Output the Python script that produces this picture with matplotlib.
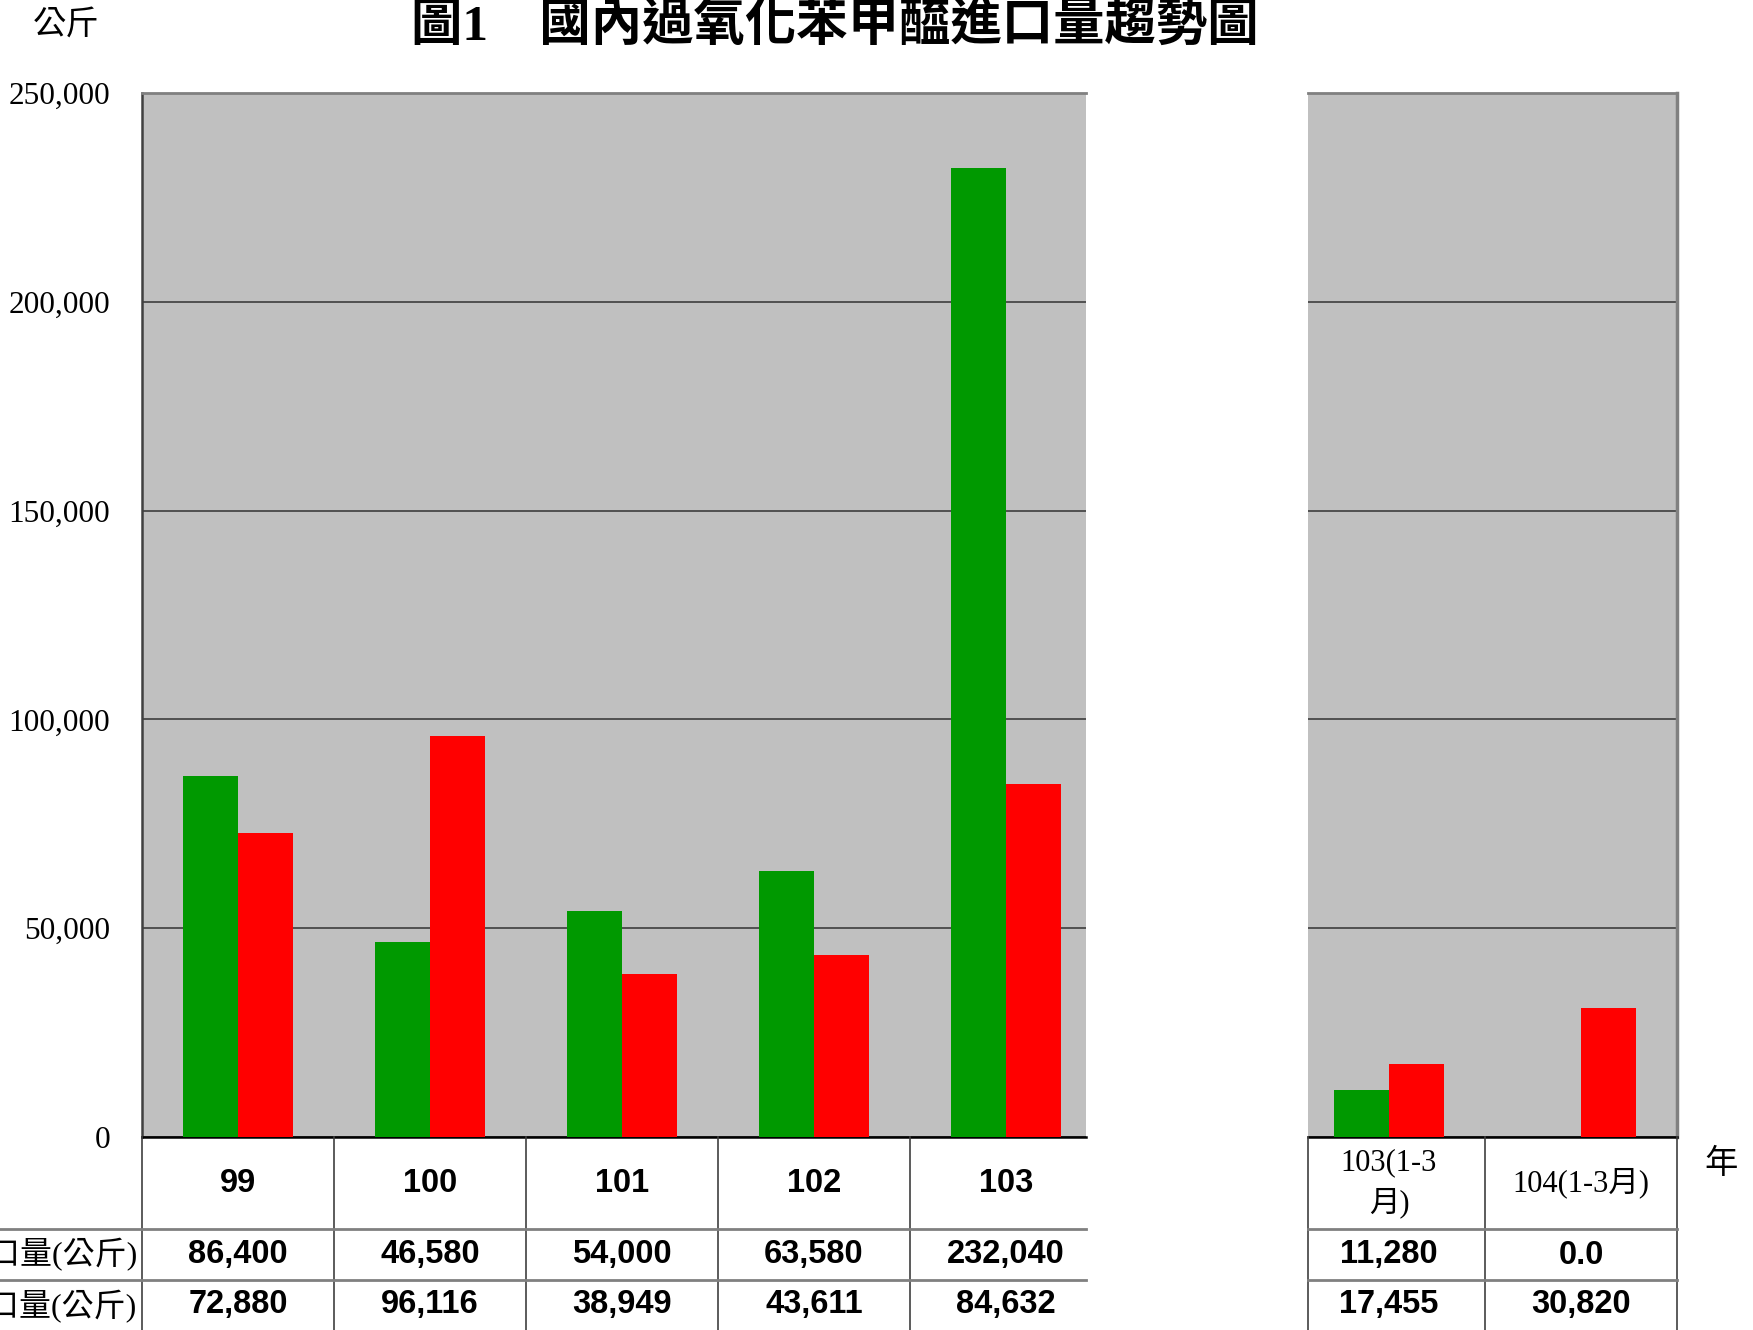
import matplotlib
matplotlib.use('Agg')
import matplotlib.pyplot as plt
from matplotlib.lines import Line2D
from matplotlib.ticker import FuncFormatter

# ---- data ----
years = ['99', '100', '101', '102', '103']
green_vals = [86400, 46580, 54000, 63580, 232040]
red_vals = [72880, 96116, 38949, 43611, 84632]
q_labels = ['103(1-3\n月)', '104(1-3月)']
q_green = [11280, 0.0]
q_red = [17455, 30820]
row_labels = ['進口量(公斤)', '出口量(公斤)']
yticks = [0, 50000, 100000, 150000, 200000, 250000]
title = '圖1　國內過氧化苯甲醯進口量趨勢圖'

GREEN = '#009900'
RED = '#FF0000'
BG = '#C0C0C0'
SERIF_CJK = ['Liberation Serif', 'Noto Sans CJK TC']
SANS_B = 'Liberation Sans'

W, H = 1753, 1330
fig = plt.figure(figsize=(W / 100, H / 100), dpi=100)
fig.patch.set_facecolor('white')

top, zero = 93, 1137
ph = zero - top
ax1 = fig.add_axes([142 / W, 1 - zero / H, (1086 - 142) / W, ph / H])
ax2 = fig.add_axes([1308 / W, 1 - zero / H, (1677 - 1308) / W, ph / H])

colw = 192.0
ax1.set_xlim(-0.5, -0.5 + (1086 - 142) / colw)
ax2.set_xlim(1.5 - (1677 - 1308) / colw, 1.5)

def fmt(v):
    return '0.0' if v == 0 else f'{v:,.0f}'

for ax, cats, g, r in [(ax1, years, green_vals, red_vals),
                       (ax2, q_labels, q_green, q_red)]:
    ax.set_facecolor(BG)
    ax.set_ylim(0, 250000)
    w = 55.0 / colw
    xs = list(range(len(cats)))
    ax.bar([x - w / 2 for x in xs], g, width=w, color=GREEN, linewidth=0, zorder=3)
    ax.bar([x + w / 2 for x in xs], r, width=w, color=RED, linewidth=0, zorder=3)
    ax.set_yticks(yticks)
    ax.yaxis.grid(True, color='#333333', linewidth=1.1, zorder=1)
    ax.set_axisbelow(True)
    ax.set_xticks([])
    ax.tick_params(axis='y', length=0)
    for s in ax.spines.values():
        s.set_visible(False)
    ax.spines['top'].set_visible(True)
    ax.spines['top'].set_color('#808080')
    ax.spines['top'].set_linewidth(2.0)
    ax.spines['bottom'].set_visible(True)
    ax.spines['bottom'].set_color('#000000')
    ax.spines['bottom'].set_linewidth(1.8)

    # table
    yf = lambda p: (zero - p) / ph
    ybot = yf(H)
    lo, hi = ax.get_xlim()
    for i in range(len(cats) + 1):
        xb = i - 0.5
        if lo - 1e-9 <= xb <= hi + 1e-9:
            ax.plot([xb, xb], [0, ybot], transform=ax.get_xaxis_transform(),
                    color='#404040', linewidth=1.2, clip_on=False, zorder=5)
    if ax is ax2:
        ax.plot([lo, lo], [0, ybot], transform=ax.get_xaxis_transform(),
                color='#404040', linewidth=1.2, clip_on=False, zorder=5)
    for i, c in enumerate(cats):
        if ax is ax1:
            ax.text(i, yf(1183), c, transform=ax.get_xaxis_transform(),
                    ha='center', va='center', fontsize=23.5, fontweight='bold',
                    family=SANS_B)
        else:
            ax.text(i, yf(1183), c, transform=ax.get_xaxis_transform(),
                    ha='center', va='center', fontsize=22, family=SERIF_CJK,
                    linespacing=1.45)
        ax.text(i, yf(1255), fmt(g[i]), transform=ax.get_xaxis_transform(),
                ha='center', va='center', fontsize=23.5, fontweight='bold', family=SANS_B)
        ax.text(i, yf(1305), fmt(r[i]), transform=ax.get_xaxis_transform(),
                ha='center', va='center', fontsize=23.5, fontweight='bold', family=SANS_B)

ax1.spines['left'].set_visible(True)
ax1.spines['left'].set_color('#404040')
ax1.spines['left'].set_linewidth(1.8)
ax2.spines['right'].set_visible(True)
ax2.spines['right'].set_color('#808080')
ax2.spines['right'].set_linewidth(2.5)

ax1.yaxis.set_major_formatter(FuncFormatter(lambda v, p: f'{v:,.0f}'))
for lab in ax1.get_yticklabels():
    lab.set_family('Liberation Serif')
    lab.set_fontsize(22.5)
ax1.tick_params(axis='y', pad=23)
ax2.set_yticklabels([])

# horizontal table row lines (figure coords)
for yp in [1229, 1280]:
    fig.add_artist(Line2D([0, 1086 / W], [1 - yp / H, 1 - yp / H],
                          color='#808080', linewidth=2.0))
    fig.add_artist(Line2D([1308 / W, 1677 / W], [1 - yp / H, 1 - yp / H],
                          color='#808080', linewidth=2.0))

# row labels (cut at the left figure edge, as in the reference)
for yp, lab in zip([1255, 1305], row_labels):
    fig.text(137 / W, 1 - yp / H, lab, ha='right', va='center', fontsize=23,
             family=SERIF_CJK)

# texts
fig.text(835 / W, 1 - 26 / H, title, ha='center', va='center', fontsize=37,
         fontweight='bold', family=SERIF_CJK)
fig.text(66 / W, 1 - 24 / H, '公斤', ha='center', va='center', fontsize=24,
         family=['Noto Sans CJK TC'])
fig.text(1721 / W, 1 - 1163 / H, '年', ha='center', va='center', fontsize=24,
         family=['Noto Sans CJK TC'])

fig.savefig('out.png', dpi=100, facecolor='white')
